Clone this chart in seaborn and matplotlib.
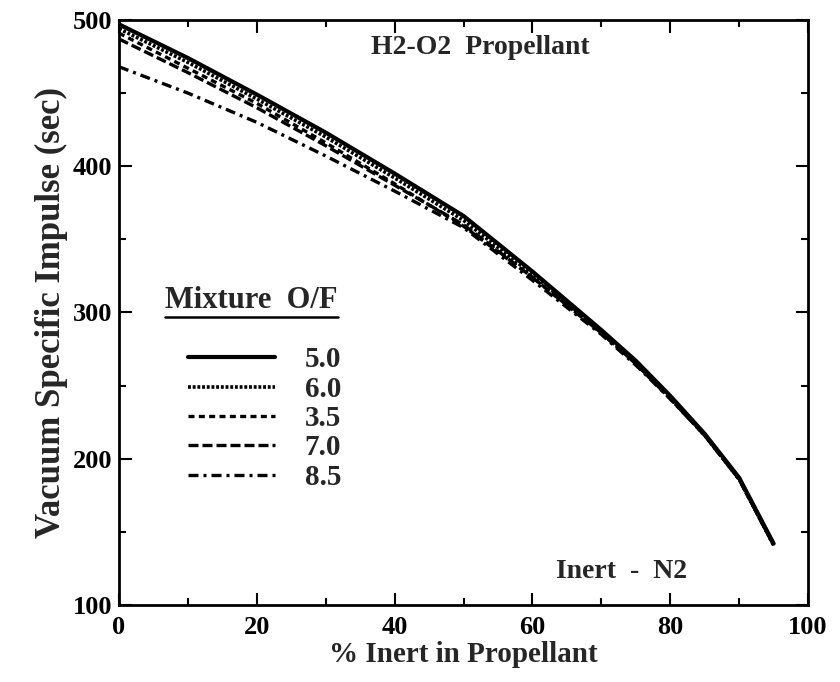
import matplotlib
matplotlib.use("Agg")
import matplotlib.pyplot as plt
import pandas as pd
import seaborn as sns
from matplotlib.ticker import MultipleLocator

# % inert in propellant
inert_pct = [0, 10, 20, 30, 40, 50, 60, 70, 75, 80, 85, 90, 95]

# vacuum Isp (sec) per mixture ratio O/F
isp_5_0 = [497, 474, 449, 423, 395, 366, 328, 288, 267, 243, 217, 187, 142]
isp_6_0 = [494, 471, 446, 420, 392, 363, 326, 287, 266, 242, 216, 186, 141]
isp_3_5 = [491, 467, 443, 416, 388, 359, 324, 286, 265, 241, 216, 186, 141]
isp_7_0 = [487, 464, 440, 414, 387, 360, 324, 286, 265, 241, 216, 186, 141]
isp_8_5 = [468, 450, 430, 407, 383, 358, 322, 285, 264, 241, 216, 186, 141]

mixture_labels = ["5.0", "6.0", "3.5", "7.0", "8.5"]
series = [isp_5_0, isp_6_0, isp_3_5, isp_7_0, isp_8_5]

dash_styles = {
    "5.0": "",
    "6.0": (0.8, 0.5),
    "3.5": (1.8, 1.3),
    "7.0": (3.0, 1.2),
    "8.5": (3.0, 1.5, 0.9, 1.5),
}
line_widths = {"5.0": 3.0, "6.0": 2.6, "3.5": 2.4, "7.0": 2.4, "8.5": 2.4}

frames = [
    pd.DataFrame({"inert": inert_pct, "isp": vals, "of": lab})
    for lab, vals in zip(mixture_labels, series)
]
df = pd.concat(frames, ignore_index=True)

sns.set_style("ticks")
plt.rcParams["font.family"] = ["Liberation Serif", "DejaVu Serif"]
plt.rcParams["font.weight"] = "bold"

fig = plt.figure(figsize=(8.4, 6.82), dpi=100)
ax = fig.add_axes([0.1417, 0.1129, 0.962 - 0.1417, 0.9707 - 0.1129])

sns.lineplot(
    data=df, x="inert", y="isp", style="of", style_order=mixture_labels,
    dashes=dash_styles, color="black", legend=False, ax=ax,
)
for line, lab in zip(ax.lines, mixture_labels):
    line.set_linewidth(line_widths[lab])
    line.set_dash_capstyle("butt")

ax.set_xlim(0, 100)
ax.set_ylim(100, 500)
ax.xaxis.set_major_locator(MultipleLocator(20))
ax.xaxis.set_minor_locator(MultipleLocator(10))
ax.yaxis.set_major_locator(MultipleLocator(100))
ax.yaxis.set_minor_locator(MultipleLocator(50))
ax.tick_params(which="both", direction="in", top=True, right=True, width=1.5,
               colors="black", labelsize=19)
ax.tick_params(which="major", length=9)
ax.tick_params(axis="x", which="major", pad=8)
ax.tick_params(axis="y", which="major", pad=5)
ax.tick_params(which="minor", length=5)
for lbl in ax.get_xticklabels() + ax.get_yticklabels():
    lbl.set_fontweight("bold")
for sp in ax.spines.values():
    sp.set_linewidth(2)
    sp.set_color("black")

ax.set_xlabel("% Inert in Propellant", fontsize=21, fontweight="bold", labelpad=1)
ax.set_ylabel("Vacuum Specific Impulse (sec)", fontsize=25, fontweight="bold", labelpad=3)

ax.text(0.525, 0.953, "H2-O2  Propellant", transform=ax.transAxes, fontsize=20,
        fontweight="bold", ha="center", va="center")
ax.text(0.73, 0.057, "Inert  -  N2", transform=ax.transAxes, fontsize=20,
        fontweight="bold", ha="center", va="center")

# legend title with an underline
title = ax.text(0.067, 0.521, "Mixture  O/F", transform=ax.transAxes, fontsize=22,
                fontweight="bold", ha="left", va="center")
fig.canvas.draw()
bb = title.get_window_extent().transformed(ax.transAxes.inverted())
ax.plot([bb.x0, bb.x1], [bb.y0 - 0.004, bb.y0 - 0.004], transform=ax.transAxes,
        color="black", lw=1.8, clip_on=False)

ax.legend(
    ax.lines[:len(mixture_labels)], mixture_labels,
    loc="upper left", bbox_to_anchor=(0.1, 0.442), frameon=False,
    handlelength=3.0, handletextpad=1.0, labelspacing=0.08,
    borderpad=0, borderaxespad=0, prop={"weight": "bold", "size": 21},
)

fig.savefig("out.png", dpi=100)
